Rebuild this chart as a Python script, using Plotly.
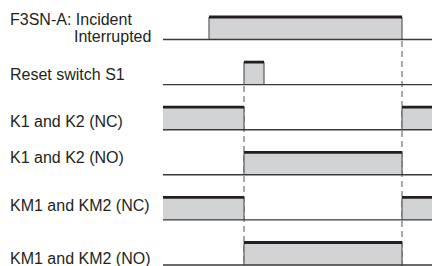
import plotly.graph_objects as go

# ---- data -------------------------------------------------------------
# timing breakpoints (arbitrary time units)
times = [0, 46, 81, 101, 239, 277]
signal_labels = ["F3SN-A: Incident", "Reset switch S1", "K1 and K2 (NC)",
                 "K1 and K2 (NO)", "KM1 and KM2 (NC)", "KM1 and KM2 (NO)"]
sub_label = "Interrupted"
# state (0 = low, 1 = high) for each interval between breakpoints
f3sn_state = [0, 1, 1, 1, 0]
reset_state = [0, 0, 1, 0, 0]
k_nc_state = [1, 1, 0, 0, 1]
k_no_state = [0, 0, 1, 1, 0]
km_nc_state = [1, 1, 0, 0, 1]
km_no_state = [0, 0, 1, 1, 0]
states = [f3sn_state, reset_state, k_nc_state, k_no_state, km_nc_state, km_no_state]
# dashed guide lines: (time, first row index they hang from)
guides_t = [81, 239]
guides_row = [1, 0]

# ---- layout constants ---------------------------------------------------
W, H = 432, 258            # page adds an 8px body margin
X0 = 155                   # pixel (in figure) where time 0 sits
BASE0, SPACING, HIGH = 31.5, 45.1, 22.5
label_dy = [-20.5, -10, -8.5, -17.5, -14.5, -7]
FILL, TOP, SIDE, BASE, DASH = "#d1d3d4", "#231f20", "#5c5c5c", "#3a3a3a", "#7a7a7a"
FONT = dict(family="Liberation Sans, Arial, Helvetica, sans-serif", size=16, color="#231f20")

def base_y(i):
    return -(BASE0 + SPACING * i)

fig = go.Figure()
t_end = W - X0

# dashed guides (drawn first, under boxes)
for t, r in zip(guides_t, guides_row):
    fig.add_trace(go.Scatter(x=[t, t], y=[base_y(r) - 1.5, -H], mode="lines",
                             line=dict(color=DASH, width=1.3, dash="6px,4px"),
                             hoverinfo="skip", showlegend=False))

for i, st in enumerate(states):
    yb = base_y(i)
    yt = yb + HIGH
    # pulses
    pulses = []
    j = 0
    while j < len(st):
        if st[j] == 1:
            k = j
            while k + 1 < len(st) and st[k + 1] == 1:
                k += 1
            pulses.append((times[j], times[k + 1]))
            j = k + 1
        else:
            j += 1
    for a, b in pulses:
        fig.add_trace(go.Scatter(x=[a, b, b, a, a], y=[yb, yb, yt, yt, yb], mode="lines",
                                 fill="toself", fillcolor=FILL, line=dict(width=0),
                                 hoverinfo="skip", showlegend=False))
        for e in (a, b):
            if 0 < e < times[-1]:
                fig.add_trace(go.Scatter(x=[e, e], y=[yb, yt], mode="lines",
                                         line=dict(color=SIDE, width=1.2),
                                         hoverinfo="skip", showlegend=False))
        fig.add_trace(go.Scatter(x=[a, b], y=[yt, yt], mode="lines",
                                 line=dict(color=TOP, width=2.8),
                                 hoverinfo="skip", showlegend=False))
    # baseline
    fig.add_trace(go.Scatter(x=[times[0], times[-1]], y=[yb, yb], mode="lines",
                             line=dict(color=BASE, width=1.4),
                             hoverinfo="skip", showlegend=False))
    # label
    fig.add_annotation(x=-X0, y=yb - label_dy[i], text=signal_labels[i],
                       showarrow=False, xanchor="left", yanchor="middle", font=FONT)

fig.add_annotation(x=-10, y=base_y(0) + 3.5, text=sub_label, showarrow=False,
                   xanchor="right", yanchor="middle", font=FONT)

fig.update_layout(width=W, height=H, margin=dict(l=0, r=0, t=0, b=0),
                  paper_bgcolor="white", plot_bgcolor="white", showlegend=False)
fig.update_xaxes(range=[-X0, W - X0], visible=False, fixedrange=True)
fig.update_yaxes(range=[-H, 0], visible=False, fixedrange=True)
fig.write_html("out.html")
